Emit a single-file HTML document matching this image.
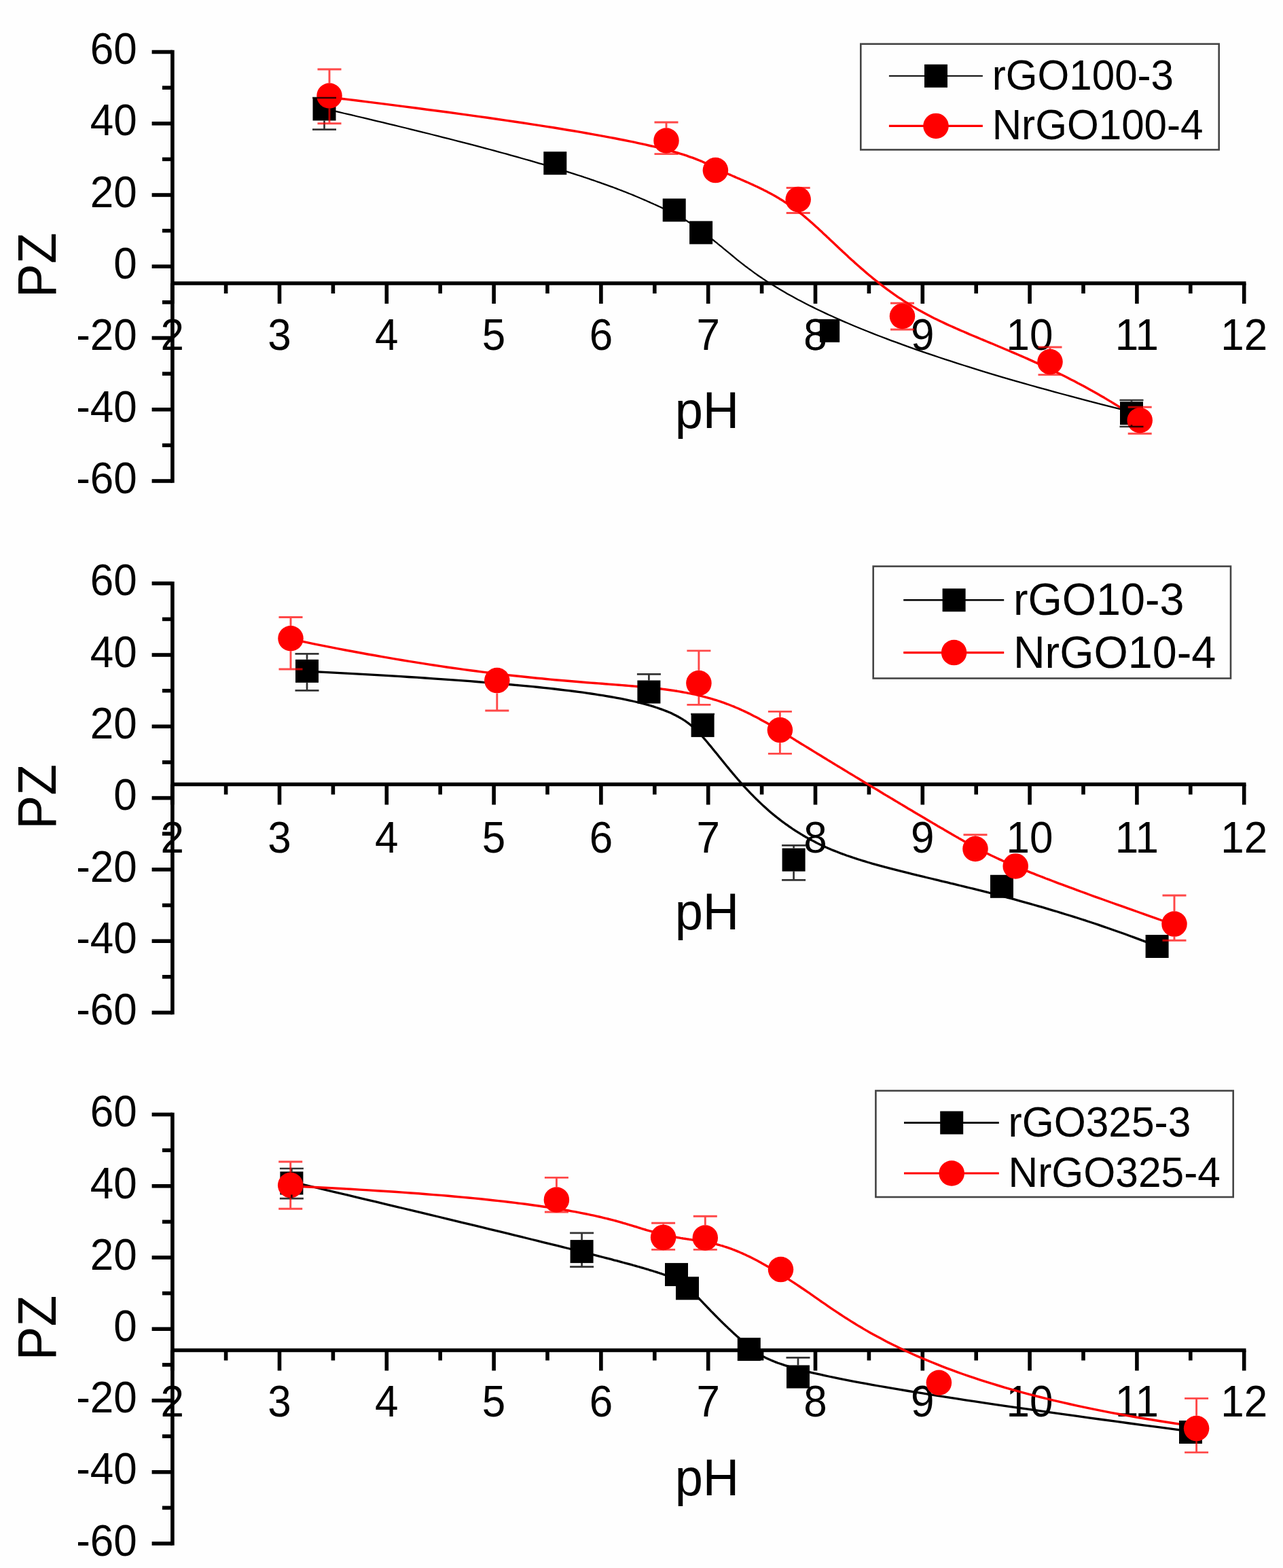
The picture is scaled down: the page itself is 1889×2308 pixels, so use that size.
<!DOCTYPE html>
<html><head><meta charset="utf-8"><title>PZ vs pH</title>
<style>html,body{margin:0;padding:0;background:#fefefe;}svg{display:block;}</style>
</head><body>
<svg width="1889" height="2308" viewBox="0 0 1889 2308"><rect x="0" y="0" width="1889" height="2308" fill="#fefefe"/><g><g><line x1="253.9" y1="73.7" x2="253.9" y2="710.8" stroke="#000" stroke-width="5.6"/><line x1="223.6" y1="708.0" x2="253.9" y2="708.0" stroke="#000" stroke-width="5.6"/><line x1="238.9" y1="655.4" x2="253.9" y2="655.4" stroke="#000" stroke-width="5.6"/><line x1="223.6" y1="602.8" x2="253.9" y2="602.8" stroke="#000" stroke-width="5.6"/><line x1="238.9" y1="550.1" x2="253.9" y2="550.1" stroke="#000" stroke-width="5.6"/><line x1="223.6" y1="497.5" x2="253.9" y2="497.5" stroke="#000" stroke-width="5.6"/><line x1="238.9" y1="444.9" x2="253.9" y2="444.9" stroke="#000" stroke-width="5.6"/><line x1="223.6" y1="392.2" x2="253.9" y2="392.2" stroke="#000" stroke-width="5.6"/><line x1="238.9" y1="339.6" x2="253.9" y2="339.6" stroke="#000" stroke-width="5.6"/><line x1="223.6" y1="287.0" x2="253.9" y2="287.0" stroke="#000" stroke-width="5.6"/><line x1="238.9" y1="234.4" x2="253.9" y2="234.4" stroke="#000" stroke-width="5.6"/><line x1="223.6" y1="181.8" x2="253.9" y2="181.8" stroke="#000" stroke-width="5.6"/><line x1="238.9" y1="129.1" x2="253.9" y2="129.1" stroke="#000" stroke-width="5.6"/><line x1="223.6" y1="76.5" x2="253.9" y2="76.5" stroke="#000" stroke-width="5.6"/><line x1="253.9" y1="417.0" x2="1834.5" y2="417.0" stroke="#000" stroke-width="5.6"/><line x1="253.7" y1="417.0" x2="253.7" y2="447.0" stroke="#000" stroke-width="5.6"/><line x1="332.6" y1="417.0" x2="332.6" y2="432.0" stroke="#000" stroke-width="5.6"/><line x1="411.5" y1="417.0" x2="411.5" y2="447.0" stroke="#000" stroke-width="5.6"/><line x1="490.4" y1="417.0" x2="490.4" y2="432.0" stroke="#000" stroke-width="5.6"/><line x1="569.3" y1="417.0" x2="569.3" y2="447.0" stroke="#000" stroke-width="5.6"/><line x1="648.2" y1="417.0" x2="648.2" y2="432.0" stroke="#000" stroke-width="5.6"/><line x1="727.1" y1="417.0" x2="727.1" y2="447.0" stroke="#000" stroke-width="5.6"/><line x1="806.0" y1="417.0" x2="806.0" y2="432.0" stroke="#000" stroke-width="5.6"/><line x1="884.9" y1="417.0" x2="884.9" y2="447.0" stroke="#000" stroke-width="5.6"/><line x1="963.8" y1="417.0" x2="963.8" y2="432.0" stroke="#000" stroke-width="5.6"/><line x1="1042.7" y1="417.0" x2="1042.7" y2="447.0" stroke="#000" stroke-width="5.6"/><line x1="1121.6" y1="417.0" x2="1121.6" y2="432.0" stroke="#000" stroke-width="5.6"/><line x1="1200.5" y1="417.0" x2="1200.5" y2="447.0" stroke="#000" stroke-width="5.6"/><line x1="1279.4" y1="417.0" x2="1279.4" y2="432.0" stroke="#000" stroke-width="5.6"/><line x1="1358.3" y1="417.0" x2="1358.3" y2="447.0" stroke="#000" stroke-width="5.6"/><line x1="1437.2" y1="417.0" x2="1437.2" y2="432.0" stroke="#000" stroke-width="5.6"/><line x1="1516.1" y1="417.0" x2="1516.1" y2="447.0" stroke="#000" stroke-width="5.6"/><line x1="1595.0" y1="417.0" x2="1595.0" y2="432.0" stroke="#000" stroke-width="5.6"/><line x1="1673.9" y1="417.0" x2="1673.9" y2="447.0" stroke="#000" stroke-width="5.6"/><line x1="1752.8" y1="417.0" x2="1752.8" y2="432.0" stroke="#000" stroke-width="5.6"/><line x1="1831.7" y1="417.0" x2="1831.7" y2="447.0" stroke="#000" stroke-width="5.6"/><text transform="translate(201.8,725.7) scale(1.0,1.055)" font-family="Liberation Sans, sans-serif" font-size="62" text-anchor="end">-60</text><text transform="translate(201.8,620.5) scale(1.0,1.055)" font-family="Liberation Sans, sans-serif" font-size="62" text-anchor="end">-40</text><text transform="translate(201.8,515.2) scale(1.0,1.055)" font-family="Liberation Sans, sans-serif" font-size="62" text-anchor="end">-20</text><text transform="translate(201.8,409.9) scale(1.0,1.055)" font-family="Liberation Sans, sans-serif" font-size="62" text-anchor="end">0</text><text transform="translate(201.8,304.7) scale(1.0,1.055)" font-family="Liberation Sans, sans-serif" font-size="62" text-anchor="end">20</text><text transform="translate(201.8,199.4) scale(1.0,1.055)" font-family="Liberation Sans, sans-serif" font-size="62" text-anchor="end">40</text><text transform="translate(201.8,94.2) scale(1.0,1.055)" font-family="Liberation Sans, sans-serif" font-size="62" text-anchor="end">60</text><text transform="translate(253.7,514.5) scale(1.0,1.055)" font-family="Liberation Sans, sans-serif" font-size="62" text-anchor="middle">2</text><text transform="translate(411.5,514.5) scale(1.0,1.055)" font-family="Liberation Sans, sans-serif" font-size="62" text-anchor="middle">3</text><text transform="translate(569.3,514.5) scale(1.0,1.055)" font-family="Liberation Sans, sans-serif" font-size="62" text-anchor="middle">4</text><text transform="translate(727.1,514.5) scale(1.0,1.055)" font-family="Liberation Sans, sans-serif" font-size="62" text-anchor="middle">5</text><text transform="translate(884.9,514.5) scale(1.0,1.055)" font-family="Liberation Sans, sans-serif" font-size="62" text-anchor="middle">6</text><text transform="translate(1042.7,514.5) scale(1.0,1.055)" font-family="Liberation Sans, sans-serif" font-size="62" text-anchor="middle">7</text><text transform="translate(1200.5,514.5) scale(1.0,1.055)" font-family="Liberation Sans, sans-serif" font-size="62" text-anchor="middle">8</text><text transform="translate(1358.3,514.5) scale(1.0,1.055)" font-family="Liberation Sans, sans-serif" font-size="62" text-anchor="middle">9</text><text transform="translate(1516.1,514.5) scale(1.0,1.055)" font-family="Liberation Sans, sans-serif" font-size="62" text-anchor="middle">10</text><text transform="translate(1673.9,514.5) scale(1.0,1.055)" font-family="Liberation Sans, sans-serif" font-size="62" text-anchor="middle">11</text><text transform="translate(1831.7,514.5) scale(1.0,1.055)" font-family="Liberation Sans, sans-serif" font-size="62" text-anchor="middle">12</text><text transform="translate(82.4,390.3) rotate(-90) scale(1.0,1.05)" font-family="Liberation Sans, sans-serif" font-size="75" text-anchor="middle">PZ</text><text transform="translate(1041.0,630.3) scale(1.0,1.03)" font-family="Liberation Sans, sans-serif" font-size="74" text-anchor="middle">pH</text><path d="M477.5,160.0 L487.6,162.4 L497.6,164.7 L507.4,167.0 L517.1,169.2 L526.6,171.5 L536.0,173.7 L545.2,175.9 L554.3,178.1 L563.3,180.2 L572.1,182.3 L580.8,184.4 L589.3,186.5 L597.7,188.5 L606.0,190.6 L614.2,192.6 L622.2,194.6 L630.0,196.5 L637.8,198.5 L645.4,200.4 L652.9,202.3 L660.3,204.1 L667.5,206.0 L674.6,207.8 L681.6,209.6 L688.5,211.4 L695.3,213.2 L701.9,214.9 L708.4,216.7 L714.8,218.4 L721.1,220.0 L727.3,221.7 L733.4,223.4 L739.3,225.0 L745.8,226.7 L751.5,228.3 L757.1,229.9 L762.6,231.4 L768.1,233.0 L773.4,234.5 L778.6,235.9 L783.7,237.4 L788.7,238.9 L793.6,240.3 L798.5,241.7 L803.2,243.1 L807.8,244.5 L812.4,245.8 L816.8,247.2 L821.2,248.5 L825.5,249.8 L829.7,251.1 L833.8,252.4 L837.8,253.7 L841.7,254.9 L845.6,256.1 L849.4,257.3 L853.1,258.5 L856.7,259.7 L860.2,260.9 L863.7,262.0 L867.1,263.2 L870.4,264.3 L873.7,265.4 L876.8,266.5 L879.9,267.6 L883.0,268.6 L886.3,269.8 L889.2,270.8 L892.0,271.8 L894.8,272.8 L897.5,273.8 L900.2,274.8 L902.8,275.7 L905.3,276.7 L907.8,277.6 L910.2,278.6 L912.6,279.5 L915.0,280.4 L917.2,281.3 L919.5,282.1 L921.7,283.0 L923.8,283.9 L925.9,284.7 L927.9,285.5 L929.9,286.3 L931.9,287.1 L933.8,287.9 L935.7,288.7 L937.6,289.5 L939.4,290.3 L941.1,291.0 L942.9,291.8 L944.6,292.5 L946.3,293.2 L947.9,293.9 L949.5,294.6 L951.1,295.3 L952.7,296.0 L954.3,296.7 L955.9,297.4 L957.4,298.1 L958.9,298.8 L960.3,299.4 L961.8,300.0 L963.2,300.7 L964.6,301.3 L965.9,301.9 L967.3,302.5 L968.6,303.1 L969.9,303.7 L971.2,304.3 L972.5,304.9 L973.8,305.5 L975.0,306.1 L976.3,306.6 L977.5,307.2 L978.7,307.8 L979.9,308.3 L981.0,308.9 L982.2,309.5 L983.4,310.0 L984.5,310.6 L985.6,311.1 L986.7,311.7 L987.8,312.2 L988.9,312.8 L990.0,313.3 L991.1,313.8 L992.1,314.4 L993.2,314.9 L994.2,315.5 L995.3,316.0 L996.4,316.6 L997.4,317.2 L998.4,317.7 L999.4,318.3 L1000.4,318.9 L1001.4,319.4 L1002.4,320.0 L1003.4,320.5 L1004.4,321.1 L1005.4,321.7 L1006.4,322.3 L1007.4,322.8 L1008.3,323.4 L1009.3,324.0 L1010.3,324.6 L1011.3,325.2 L1012.2,325.8 L1013.2,326.5 L1014.2,327.1 L1015.2,327.7 L1016.1,328.3 L1017.1,329.0 L1018.1,329.6 L1019.1,330.3 L1020.1,331.0 L1021.1,331.7 L1022.1,332.3 L1023.1,333.0 L1024.1,333.7 L1025.1,334.5 L1026.2,335.2 L1027.2,335.9 L1028.2,336.7 L1029.3,337.4 L1030.4,338.3 L1031.5,339.1 L1032.6,339.9 L1033.7,340.7 L1034.8,341.5 L1035.9,342.3 L1037.0,343.2 L1038.1,344.0 L1039.3,344.9 L1040.4,345.8 L1041.6,346.7 L1042.8,347.6 L1044.0,348.6 L1045.2,349.5 L1046.4,350.5 L1047.7,351.5 L1048.9,352.5 L1050.2,353.5 L1051.5,354.5 L1052.8,355.6 L1054.1,356.6 L1055.5,357.7 L1056.8,358.8 L1058.2,359.9 L1059.6,361.1 L1061.0,362.2 L1062.5,363.4 L1064.0,364.6 L1065.4,365.8 L1067.0,367.1 L1068.5,368.3 L1070.0,369.6 L1071.6,370.9 L1073.4,372.4 L1075.0,373.7 L1076.7,375.1 L1078.4,376.5 L1080.1,377.9 L1081.8,379.3 L1083.6,380.8 L1085.4,382.3 L1087.3,383.8 L1089.2,385.3 L1091.1,386.8 L1093.1,388.4 L1095.2,390.0 L1097.2,391.6 L1099.4,393.2 L1101.6,394.9 L1103.8,396.5 L1106.1,398.2 L1108.4,399.9 L1110.8,401.7 L1113.3,403.4 L1115.8,405.2 L1118.4,407.0 L1121.1,408.8 L1123.8,410.6 L1126.6,412.5 L1129.5,414.4 L1132.5,416.3 L1135.5,418.2 L1138.6,420.1 L1141.8,422.1 L1145.1,424.1 L1148.4,426.1 L1152.2,428.3 L1155.7,430.3 L1159.3,432.4 L1163.1,434.5 L1166.9,436.6 L1170.8,438.7 L1174.8,440.9 L1178.9,443.0 L1183.1,445.2 L1187.4,447.4 L1191.8,449.7 L1196.3,451.9 L1200.9,454.2 L1205.6,456.5 L1210.5,458.8 L1215.4,461.1 L1220.5,463.5 L1225.7,465.8 L1231.0,468.2 L1236.4,470.6 L1242.0,473.1 L1247.7,475.5 L1253.5,478.0 L1259.4,480.5 L1265.5,483.0 L1271.7,485.5 L1278.0,488.0 L1284.5,490.6 L1291.1,493.2 L1297.8,495.8 L1304.7,498.4 L1311.7,501.1 L1318.9,503.7 L1327.0,506.7 L1334.5,509.4 L1342.1,512.1 L1349.9,514.9 L1357.9,517.6 L1366.0,520.4 L1374.3,523.2 L1382.7,526.0 L1391.3,528.9 L1400.1,531.7 L1409.0,534.6 L1418.1,537.5 L1427.4,540.4 L1436.8,543.4 L1446.4,546.3 L1456.2,549.3 L1466.2,552.3 L1476.3,555.3 L1486.6,558.3 L1497.1,561.4 L1507.8,564.4 L1518.7,567.5 L1529.8,570.6 L1541.1,573.7 L1552.5,576.9 L1564.2,580.0 L1576.0,583.2 L1588.1,586.4 L1600.3,589.6 L1612.8,592.9 L1625.4,596.1 L1638.3,599.4 L1651.4,602.7 L1666.0,606.3" fill="none" stroke="#000" stroke-width="2.3" stroke-linejoin="round"/><path d="M485.0,143.1 L504.6,145.5 L523.7,147.8 L542.4,150.1 L560.5,152.4 L578.2,154.6 L595.5,156.9 L612.3,159.0 L628.6,161.2 L644.5,163.3 L660.0,165.3 L675.1,167.4 L689.7,169.4 L703.9,171.4 L717.8,173.3 L731.2,175.2 L744.2,177.1 L756.9,179.0 L769.1,180.8 L781.0,182.6 L792.5,184.4 L803.7,186.1 L814.5,187.8 L825.0,189.5 L835.1,191.2 L844.9,192.8 L854.4,194.4 L863.5,196.0 L872.4,197.6 L880.9,199.1 L889.1,200.6 L897.1,202.1 L904.7,203.5 L912.1,205.0 L919.9,206.5 L926.7,207.9 L933.2,209.2 L939.5,210.6 L945.6,211.9 L951.4,213.2 L956.9,214.5 L962.3,215.7 L967.4,216.9 L972.3,218.2 L977.0,219.4 L981.5,220.5 L985.8,221.7 L989.9,222.8 L993.9,223.9 L997.6,225.0 L1001.2,226.1 L1004.7,227.2 L1007.9,228.2 L1011.1,229.2 L1014.1,230.3 L1016.9,231.3 L1019.6,232.2 L1022.2,233.2 L1024.7,234.2 L1027.1,235.1 L1029.4,236.0 L1031.6,236.9 L1033.7,237.8 L1035.7,238.7 L1037.6,239.6 L1039.5,240.5 L1041.3,241.3 L1043.2,242.2 L1044.9,243.0 L1046.6,243.9 L1048.2,244.7 L1049.8,245.5 L1051.3,246.2 L1052.9,247.0 L1054.4,247.8 L1055.9,248.5 L1057.5,249.3 L1059.0,250.0 L1060.6,250.8 L1062.1,251.5 L1063.7,252.2 L1065.2,252.9 L1066.8,253.6 L1068.3,254.4 L1069.9,255.1 L1071.4,255.8 L1073.0,256.5 L1074.6,257.1 L1076.1,257.8 L1077.7,258.5 L1079.3,259.2 L1080.9,259.9 L1082.5,260.6 L1084.0,261.3 L1085.6,262.0 L1087.2,262.6 L1088.8,263.3 L1090.4,264.0 L1092.0,264.7 L1093.6,265.4 L1095.4,266.2 L1097.0,266.9 L1098.6,267.6 L1100.2,268.3 L1101.9,269.0 L1103.5,269.7 L1105.1,270.5 L1106.7,271.2 L1108.4,271.9 L1110.0,272.7 L1111.7,273.5 L1113.3,274.2 L1115.0,275.0 L1116.6,275.8 L1118.3,276.6 L1119.9,277.4 L1121.6,278.2 L1123.3,279.0 L1125.0,279.9 L1126.6,280.7 L1128.3,281.6 L1130.0,282.5 L1131.7,283.4 L1133.4,284.3 L1135.1,285.2 L1136.8,286.1 L1138.5,287.1 L1140.2,288.0 L1142.0,289.0 L1143.7,290.0 L1145.4,291.1 L1147.2,292.1 L1148.9,293.2 L1150.8,294.3 L1152.6,295.4 L1154.3,296.6 L1156.1,297.7 L1157.9,298.8 L1159.6,300.0 L1161.4,301.2 L1163.2,302.5 L1165.0,303.7 L1166.8,305.0 L1168.6,306.3 L1170.4,307.6 L1172.2,308.9 L1174.0,310.3 L1175.8,311.7 L1177.6,313.1 L1179.4,314.6 L1181.3,316.0 L1183.1,317.5 L1185.0,319.1 L1186.8,320.6 L1188.7,322.2 L1190.5,323.8 L1192.4,325.4 L1194.3,327.1 L1196.2,328.7 L1198.1,330.4 L1200.0,332.2 L1201.9,333.9 L1203.8,335.6 L1205.8,337.4 L1207.7,339.2 L1209.7,341.0 L1211.6,342.9 L1213.8,344.9 L1215.8,346.8 L1217.8,348.7 L1219.8,350.5 L1221.8,352.5 L1223.9,354.4 L1225.9,356.3 L1228.0,358.3 L1230.1,360.2 L1232.2,362.2 L1234.3,364.2 L1236.4,366.2 L1238.6,368.2 L1240.7,370.2 L1242.9,372.2 L1245.1,374.3 L1247.3,376.3 L1249.5,378.4 L1251.7,380.4 L1254.0,382.5 L1256.3,384.5 L1258.5,386.6 L1260.9,388.7 L1263.2,390.7 L1265.5,392.8 L1267.9,394.9 L1270.3,396.9 L1272.7,399.0 L1275.1,401.1 L1277.6,403.2 L1280.0,405.2 L1282.5,407.3 L1285.0,409.4 L1287.8,411.6 L1290.4,413.7 L1293.0,415.7 L1295.6,417.8 L1298.2,419.8 L1300.9,421.9 L1303.5,423.9 L1306.2,425.9 L1309.0,427.9 L1311.7,429.9 L1314.5,431.9 L1317.3,433.9 L1320.1,435.8 L1323.0,437.8 L1325.9,439.7 L1328.8,441.7 L1331.7,443.6 L1334.7,445.5 L1337.7,447.4 L1340.7,449.2 L1343.8,451.1 L1346.9,452.9 L1350.0,454.8 L1353.1,456.6 L1356.3,458.3 L1359.5,460.1 L1362.7,461.8 L1366.0,463.6 L1369.3,465.3 L1372.6,467.0 L1376.0,468.7 L1379.4,470.3 L1382.8,472.0 L1386.6,473.8 L1390.0,475.4 L1393.6,477.1 L1397.1,478.7 L1400.7,480.3 L1404.3,481.9 L1407.9,483.5 L1411.6,485.1 L1415.2,486.7 L1419.0,488.3 L1422.7,489.9 L1426.5,491.6 L1430.3,493.2 L1434.1,494.8 L1438.0,496.4 L1441.9,498.0 L1445.8,499.7 L1449.8,501.3 L1453.7,503.0 L1457.7,504.6 L1461.8,506.3 L1465.8,508.0 L1469.9,509.7 L1474.1,511.5 L1478.2,513.2 L1482.4,515.0 L1486.6,516.8 L1490.8,518.6 L1495.1,520.4 L1499.4,522.2 L1503.7,524.1 L1508.1,526.0 L1512.4,527.9 L1517.3,530.1 L1521.7,532.1 L1526.2,534.1 L1530.7,536.2 L1535.2,538.2 L1539.7,540.4 L1544.3,542.5 L1548.9,544.7 L1553.5,546.9 L1558.2,549.2 L1562.8,551.5 L1567.5,553.8 L1572.3,556.2 L1577.0,558.7 L1581.8,561.1 L1586.6,563.7 L1591.5,566.2 L1596.3,568.8 L1601.2,571.5 L1606.1,574.2 L1611.1,577.0 L1616.0,579.8 L1621.0,582.7 L1626.1,585.6 L1631.1,588.6 L1636.2,591.6 L1641.3,594.7 L1646.4,597.9 L1651.5,601.1 L1656.7,604.4 L1661.9,607.8 L1667.1,611.2 L1672.4,614.6 L1678.2,618.5" fill="none" stroke="#f00" stroke-width="3.4" stroke-linejoin="round"/><rect x="460.5" y="143.5" width="34.0" height="34.0" fill="#000"/><rect x="800.3" y="223.2" width="34.0" height="34.0" fill="#000"/><rect x="975.7" y="292.3" width="34.0" height="34.0" fill="#000"/><rect x="1015.1" y="325.4" width="34.0" height="34.0" fill="#000"/><rect x="1202.2" y="469.8" width="34.0" height="34.0" fill="#000"/><rect x="1649.0" y="591.3" width="34.0" height="34.0" fill="#000"/><circle cx="485.0" cy="141.0" r="18.75" fill="#f00"/><circle cx="981.0" cy="207.0" r="18.75" fill="#f00"/><circle cx="1053.4" cy="250.6" r="18.75" fill="#f00"/><circle cx="1175.2" cy="293.6" r="18.75" fill="#f00"/><circle cx="1328.5" cy="465.4" r="18.75" fill="#f00"/><circle cx="1546.0" cy="532.6" r="18.75" fill="#f00"/><circle cx="1678.2" cy="618.7" r="18.75" fill="#f00"/><path d="M460.0,144.0 h35.0 M477.5,177.5 V190.7 M460.0,190.7 h35.0" stroke="#000" stroke-opacity="0.8" stroke-width="2.7" fill="none"/><path d="M1666.0,591.3 V589.0 M1648.5,589.0 h35.0 M1666.0,625.3 V628.0 M1648.5,628.0 h35.0" stroke="#000" stroke-opacity="0.8" stroke-width="2.7" fill="none"/><path d="M485.0,122.2 V102.0 M467.5,102.0 h35.0 M485.0,159.8 V181.7 M467.5,181.7 h35.0" stroke="#f00" stroke-opacity="0.72" stroke-width="2.9" fill="none"/><path d="M981.0,188.2 V180.0 M963.5,180.0 h35.0 M981.0,225.8 V226.6 M963.5,226.6 h35.0" stroke="#f00" stroke-opacity="0.72" stroke-width="2.9" fill="none"/><path d="M1157.7,276.5 h35.0 M1175.2,312.4 V313.5 M1157.7,313.5 h35.0" stroke="#f00" stroke-opacity="0.72" stroke-width="2.9" fill="none"/><path d="M1328.5,446.6 V446.3 M1311.0,446.3 h35.0 M1328.5,484.1 V485.0 M1311.0,485.0 h35.0" stroke="#f00" stroke-opacity="0.72" stroke-width="2.9" fill="none"/><path d="M1546.0,513.9 V511.0 M1528.5,511.0 h35.0 M1546.0,551.4 V551.6 M1528.5,551.6 h35.0" stroke="#f00" stroke-opacity="0.72" stroke-width="2.9" fill="none"/><path d="M1678.2,600.0 V599.3 M1660.7,599.3 h35.0 M1678.2,637.5 V638.2 M1660.7,638.2 h35.0" stroke="#f00" stroke-opacity="0.72" stroke-width="2.9" fill="none"/><rect x="1189" y="473" width="18" height="40" fill="#fefefe"/><text transform="translate(1200.5,514.5) scale(1.0,1.055)" font-family="Liberation Sans, sans-serif" font-size="62" text-anchor="middle">8</text><rect x="1267.3" y="64.7" width="527.4" height="155.7" fill="none" stroke="#444" stroke-width="2.6"/><line x1="1308.9" y1="111.8" x2="1446.9" y2="111.8" stroke="#000" stroke-width="2.0"/><rect x="1361.0" y="94.8" width="34.0" height="34.0" fill="#000"/><line x1="1308.9" y1="185.4" x2="1446.9" y2="185.4" stroke="#f00" stroke-width="3.2"/><circle cx="1378" cy="185.4" r="18.75" fill="#f00"/><text transform="translate(1460.7,131.7) scale(0.97,1.03)" font-family="Liberation Sans, sans-serif" font-size="62">rGO100-3</text><text transform="translate(1460.7,204.6) scale(0.97,1.03)" font-family="Liberation Sans, sans-serif" font-size="62">NrGO100-4</text></g><g><line x1="253.9" y1="855.9" x2="253.9" y2="1493.3" stroke="#000" stroke-width="5.6"/><line x1="223.6" y1="1490.5" x2="253.9" y2="1490.5" stroke="#000" stroke-width="5.6"/><line x1="238.9" y1="1437.8" x2="253.9" y2="1437.8" stroke="#000" stroke-width="5.6"/><line x1="223.6" y1="1385.2" x2="253.9" y2="1385.2" stroke="#000" stroke-width="5.6"/><line x1="238.9" y1="1332.5" x2="253.9" y2="1332.5" stroke="#000" stroke-width="5.6"/><line x1="223.6" y1="1279.9" x2="253.9" y2="1279.9" stroke="#000" stroke-width="5.6"/><line x1="238.9" y1="1227.2" x2="253.9" y2="1227.2" stroke="#000" stroke-width="5.6"/><line x1="223.6" y1="1174.6" x2="253.9" y2="1174.6" stroke="#000" stroke-width="5.6"/><line x1="238.9" y1="1122.0" x2="253.9" y2="1122.0" stroke="#000" stroke-width="5.6"/><line x1="223.6" y1="1069.3" x2="253.9" y2="1069.3" stroke="#000" stroke-width="5.6"/><line x1="238.9" y1="1016.7" x2="253.9" y2="1016.7" stroke="#000" stroke-width="5.6"/><line x1="223.6" y1="964.0" x2="253.9" y2="964.0" stroke="#000" stroke-width="5.6"/><line x1="238.9" y1="911.4" x2="253.9" y2="911.4" stroke="#000" stroke-width="5.6"/><line x1="223.6" y1="858.7" x2="253.9" y2="858.7" stroke="#000" stroke-width="5.6"/><line x1="253.9" y1="1154.5" x2="1834.5" y2="1154.5" stroke="#000" stroke-width="5.6"/><line x1="253.7" y1="1154.5" x2="253.7" y2="1184.5" stroke="#000" stroke-width="5.6"/><line x1="332.6" y1="1154.5" x2="332.6" y2="1169.5" stroke="#000" stroke-width="5.6"/><line x1="411.5" y1="1154.5" x2="411.5" y2="1184.5" stroke="#000" stroke-width="5.6"/><line x1="490.4" y1="1154.5" x2="490.4" y2="1169.5" stroke="#000" stroke-width="5.6"/><line x1="569.3" y1="1154.5" x2="569.3" y2="1184.5" stroke="#000" stroke-width="5.6"/><line x1="648.2" y1="1154.5" x2="648.2" y2="1169.5" stroke="#000" stroke-width="5.6"/><line x1="727.1" y1="1154.5" x2="727.1" y2="1184.5" stroke="#000" stroke-width="5.6"/><line x1="806.0" y1="1154.5" x2="806.0" y2="1169.5" stroke="#000" stroke-width="5.6"/><line x1="884.9" y1="1154.5" x2="884.9" y2="1184.5" stroke="#000" stroke-width="5.6"/><line x1="963.8" y1="1154.5" x2="963.8" y2="1169.5" stroke="#000" stroke-width="5.6"/><line x1="1042.7" y1="1154.5" x2="1042.7" y2="1184.5" stroke="#000" stroke-width="5.6"/><line x1="1121.6" y1="1154.5" x2="1121.6" y2="1169.5" stroke="#000" stroke-width="5.6"/><line x1="1200.5" y1="1154.5" x2="1200.5" y2="1184.5" stroke="#000" stroke-width="5.6"/><line x1="1279.4" y1="1154.5" x2="1279.4" y2="1169.5" stroke="#000" stroke-width="5.6"/><line x1="1358.3" y1="1154.5" x2="1358.3" y2="1184.5" stroke="#000" stroke-width="5.6"/><line x1="1437.2" y1="1154.5" x2="1437.2" y2="1169.5" stroke="#000" stroke-width="5.6"/><line x1="1516.1" y1="1154.5" x2="1516.1" y2="1184.5" stroke="#000" stroke-width="5.6"/><line x1="1595.0" y1="1154.5" x2="1595.0" y2="1169.5" stroke="#000" stroke-width="5.6"/><line x1="1673.9" y1="1154.5" x2="1673.9" y2="1184.5" stroke="#000" stroke-width="5.6"/><line x1="1752.8" y1="1154.5" x2="1752.8" y2="1169.5" stroke="#000" stroke-width="5.6"/><line x1="1831.7" y1="1154.5" x2="1831.7" y2="1184.5" stroke="#000" stroke-width="5.6"/><text transform="translate(201.8,1508.2) scale(1.0,1.055)" font-family="Liberation Sans, sans-serif" font-size="62" text-anchor="end">-60</text><text transform="translate(201.8,1402.9) scale(1.0,1.055)" font-family="Liberation Sans, sans-serif" font-size="62" text-anchor="end">-40</text><text transform="translate(201.8,1297.6) scale(1.0,1.055)" font-family="Liberation Sans, sans-serif" font-size="62" text-anchor="end">-20</text><text transform="translate(201.8,1192.3) scale(1.0,1.055)" font-family="Liberation Sans, sans-serif" font-size="62" text-anchor="end">0</text><text transform="translate(201.8,1087.0) scale(1.0,1.055)" font-family="Liberation Sans, sans-serif" font-size="62" text-anchor="end">20</text><text transform="translate(201.8,981.7) scale(1.0,1.055)" font-family="Liberation Sans, sans-serif" font-size="62" text-anchor="end">40</text><text transform="translate(201.8,876.4) scale(1.0,1.055)" font-family="Liberation Sans, sans-serif" font-size="62" text-anchor="end">60</text><text transform="translate(253.7,1254.5) scale(1.0,1.055)" font-family="Liberation Sans, sans-serif" font-size="62" text-anchor="middle">2</text><text transform="translate(411.5,1254.5) scale(1.0,1.055)" font-family="Liberation Sans, sans-serif" font-size="62" text-anchor="middle">3</text><text transform="translate(569.3,1254.5) scale(1.0,1.055)" font-family="Liberation Sans, sans-serif" font-size="62" text-anchor="middle">4</text><text transform="translate(727.1,1254.5) scale(1.0,1.055)" font-family="Liberation Sans, sans-serif" font-size="62" text-anchor="middle">5</text><text transform="translate(884.9,1254.5) scale(1.0,1.055)" font-family="Liberation Sans, sans-serif" font-size="62" text-anchor="middle">6</text><text transform="translate(1042.7,1254.5) scale(1.0,1.055)" font-family="Liberation Sans, sans-serif" font-size="62" text-anchor="middle">7</text><text transform="translate(1200.5,1254.5) scale(1.0,1.055)" font-family="Liberation Sans, sans-serif" font-size="62" text-anchor="middle">8</text><text transform="translate(1358.3,1254.5) scale(1.0,1.055)" font-family="Liberation Sans, sans-serif" font-size="62" text-anchor="middle">9</text><text transform="translate(1516.1,1254.5) scale(1.0,1.055)" font-family="Liberation Sans, sans-serif" font-size="62" text-anchor="middle">10</text><text transform="translate(1673.9,1254.5) scale(1.0,1.055)" font-family="Liberation Sans, sans-serif" font-size="62" text-anchor="middle">11</text><text transform="translate(1831.7,1254.5) scale(1.0,1.055)" font-family="Liberation Sans, sans-serif" font-size="62" text-anchor="middle">12</text><text transform="translate(82.4,1172.9) rotate(-90) scale(1.0,1.05)" font-family="Liberation Sans, sans-serif" font-size="75" text-anchor="middle">PZ</text><text transform="translate(1041.0,1367.8) scale(1.0,1.03)" font-family="Liberation Sans, sans-serif" font-size="74" text-anchor="middle">pH</text><path d="M452.0,988.1 L467.0,988.8 L481.7,989.6 L496.1,990.3 L510.2,991.1 L524.1,991.9 L537.7,992.6 L551.1,993.4 L564.2,994.2 L577.0,994.9 L589.6,995.7 L602.0,996.5 L614.0,997.2 L625.9,998.0 L637.5,998.8 L648.9,999.6 L660.0,1000.3 L670.9,1001.1 L681.5,1001.9 L692.0,1002.7 L702.2,1003.5 L712.2,1004.3 L721.9,1005.1 L731.5,1005.8 L740.8,1006.7 L749.9,1007.5 L758.9,1008.3 L767.6,1009.1 L776.1,1009.9 L784.4,1010.7 L792.5,1011.5 L800.4,1012.4 L808.1,1013.2 L815.7,1014.0 L823.8,1015.0 L830.9,1015.8 L837.9,1016.6 L844.7,1017.5 L851.3,1018.4 L857.7,1019.2 L864.0,1020.1 L870.1,1021.0 L876.1,1021.9 L881.8,1022.8 L887.5,1023.7 L892.9,1024.6 L898.3,1025.5 L903.4,1026.4 L908.5,1027.3 L913.3,1028.2 L918.1,1029.2 L922.7,1030.1 L927.2,1031.1 L931.5,1032.0 L935.7,1033.0 L939.8,1033.9 L943.7,1034.9 L947.6,1035.9 L951.3,1036.9 L954.9,1037.9 L958.4,1038.9 L961.7,1039.9 L965.0,1041.0 L968.2,1042.0 L971.2,1043.1 L974.2,1044.1 L977.1,1045.2 L980.1,1046.4 L982.8,1047.4 L985.4,1048.5 L987.9,1049.6 L990.3,1050.8 L992.6,1051.9 L994.9,1053.0 L997.1,1054.2 L999.2,1055.3 L1001.2,1056.5 L1003.2,1057.6 L1005.2,1058.8 L1007.0,1060.0 L1008.8,1061.2 L1010.6,1062.5 L1012.3,1063.7 L1013.9,1064.9 L1015.6,1066.2 L1017.1,1067.4 L1018.7,1068.7 L1020.1,1070.0 L1021.6,1071.3 L1023.0,1072.6 L1024.4,1073.9 L1025.8,1075.3 L1027.1,1076.6 L1028.5,1078.0 L1029.8,1079.4 L1031.1,1080.8 L1032.4,1082.2 L1033.6,1083.6 L1034.9,1085.0 L1036.2,1086.5 L1037.6,1088.1 L1038.8,1089.5 L1040.1,1091.0 L1041.4,1092.5 L1042.6,1094.0 L1043.9,1095.6 L1045.2,1097.1 L1046.5,1098.6 L1047.8,1100.2 L1049.0,1101.8 L1050.3,1103.4 L1051.6,1105.0 L1052.9,1106.6 L1054.3,1108.2 L1055.6,1109.8 L1056.9,1111.4 L1058.2,1113.1 L1059.5,1114.7 L1060.9,1116.4 L1062.2,1118.0 L1063.6,1119.7 L1065.0,1121.4 L1066.3,1123.1 L1067.7,1124.8 L1069.1,1126.5 L1070.5,1128.2 L1071.9,1129.9 L1073.3,1131.6 L1074.7,1133.4 L1076.2,1135.1 L1077.6,1136.8 L1079.1,1138.6 L1080.6,1140.3 L1082.2,1142.2 L1083.7,1144.0 L1085.2,1145.7 L1086.7,1147.5 L1088.2,1149.2 L1089.8,1151.0 L1091.4,1152.8 L1092.9,1154.5 L1094.5,1156.3 L1096.1,1158.1 L1097.7,1159.8 L1099.4,1161.6 L1101.0,1163.3 L1102.7,1165.1 L1104.3,1166.9 L1106.0,1168.6 L1107.8,1170.4 L1109.5,1172.2 L1111.2,1173.9 L1113.0,1175.7 L1114.8,1177.4 L1116.6,1179.2 L1118.4,1180.9 L1120.2,1182.6 L1122.1,1184.4 L1123.9,1186.1 L1125.8,1187.8 L1127.8,1189.6 L1129.7,1191.3 L1131.6,1193.0 L1133.6,1194.7 L1135.6,1196.4 L1137.6,1198.1 L1139.7,1199.8 L1141.9,1201.6 L1144.0,1203.3 L1146.1,1204.9 L1148.3,1206.6 L1150.4,1208.2 L1152.6,1209.9 L1154.8,1211.5 L1157.0,1213.1 L1159.3,1214.7 L1161.6,1216.3 L1163.9,1217.9 L1166.2,1219.5 L1168.6,1221.1 L1170.9,1222.6 L1173.3,1224.1 L1175.8,1225.7 L1178.2,1227.2 L1180.7,1228.7 L1183.3,1230.2 L1185.8,1231.7 L1188.4,1233.1 L1191.0,1234.6 L1193.6,1236.0 L1196.3,1237.4 L1199.0,1238.8 L1201.7,1240.2 L1204.4,1241.6 L1207.2,1243.0 L1210.0,1244.3 L1212.9,1245.6 L1215.7,1246.9 L1218.6,1248.2 L1221.6,1249.5 L1224.9,1250.9 L1227.9,1252.1 L1230.9,1253.3 L1234.0,1254.5 L1237.1,1255.7 L1240.2,1256.9 L1243.4,1258.0 L1246.6,1259.2 L1249.8,1260.3 L1253.1,1261.4 L1256.4,1262.5 L1259.8,1263.6 L1263.1,1264.7 L1266.5,1265.8 L1270.0,1266.9 L1273.5,1267.9 L1277.0,1269.0 L1280.5,1270.0 L1284.1,1271.1 L1287.7,1272.1 L1291.4,1273.1 L1295.1,1274.1 L1298.8,1275.1 L1302.5,1276.2 L1306.3,1277.2 L1310.2,1278.2 L1314.0,1279.2 L1317.9,1280.2 L1321.9,1281.2 L1325.8,1282.2 L1329.8,1283.2 L1333.9,1284.2 L1338.0,1285.2 L1342.5,1286.3 L1346.7,1287.3 L1350.9,1288.4 L1355.1,1289.4 L1359.4,1290.4 L1363.7,1291.5 L1368.0,1292.5 L1372.4,1293.5 L1376.8,1294.6 L1381.3,1295.7 L1385.8,1296.8 L1390.3,1297.8 L1394.9,1298.9 L1399.5,1300.1 L1404.2,1301.2 L1408.9,1302.3 L1413.6,1303.5 L1418.3,1304.6 L1423.2,1305.8 L1428.0,1307.0 L1432.9,1308.2 L1437.8,1309.4 L1442.8,1310.7 L1447.8,1311.9 L1452.8,1313.2 L1457.9,1314.5 L1463.0,1315.8 L1468.2,1317.2 L1473.4,1318.5 L1478.6,1319.9 L1483.9,1321.3 L1489.2,1322.7 L1494.6,1324.2 L1500.6,1325.8 L1506.0,1327.3 L1511.5,1328.8 L1517.0,1330.4 L1522.6,1332.0 L1528.2,1333.6 L1533.9,1335.2 L1539.6,1336.9 L1545.3,1338.6 L1551.1,1340.3 L1556.9,1342.0 L1562.8,1343.8 L1568.7,1345.7 L1574.7,1347.5 L1580.7,1349.4 L1586.7,1351.3 L1592.8,1353.3 L1598.9,1355.2 L1605.1,1357.3 L1611.3,1359.3 L1617.6,1361.4 L1623.9,1363.6 L1630.2,1365.7 L1636.6,1368.0 L1643.0,1370.2 L1649.5,1372.5 L1656.0,1374.8 L1662.6,1377.2 L1669.2,1379.6 L1675.9,1382.1 L1682.6,1384.6 L1689.3,1387.1 L1696.1,1389.7 L1703.6,1392.6" fill="none" stroke="#000" stroke-width="3.3" stroke-linejoin="round"/><path d="M428.0,940.7 L440.1,943.2 L452.0,945.7 L463.7,948.1 L475.3,950.4 L486.7,952.6 L498.0,954.8 L509.1,957.0 L520.1,959.0 L530.9,961.0 L541.5,963.0 L552.0,964.8 L562.4,966.7 L572.6,968.4 L582.6,970.1 L592.5,971.8 L602.3,973.4 L611.9,974.9 L621.4,976.4 L630.7,977.9 L639.9,979.3 L649.0,980.6 L657.9,982.0 L666.7,983.2 L675.3,984.4 L683.9,985.6 L692.3,986.7 L700.5,987.8 L708.7,988.9 L716.7,989.9 L724.6,990.9 L732.3,991.8 L740.0,992.7 L747.5,993.6 L755.7,994.5 L763.0,995.3 L770.1,996.0 L777.2,996.8 L784.1,997.5 L790.9,998.2 L797.7,998.8 L804.3,999.5 L810.8,1000.1 L817.2,1000.7 L823.5,1001.2 L829.7,1001.8 L835.8,1002.3 L841.8,1002.8 L847.7,1003.3 L853.5,1003.8 L859.2,1004.2 L864.8,1004.7 L870.3,1005.1 L875.7,1005.5 L881.0,1005.9 L886.3,1006.3 L891.5,1006.7 L896.5,1007.1 L901.5,1007.5 L906.4,1007.9 L911.3,1008.2 L916.0,1008.6 L920.7,1009.0 L925.3,1009.4 L929.8,1009.7 L934.3,1010.1 L938.6,1010.5 L943.4,1010.9 L947.6,1011.3 L951.8,1011.7 L955.9,1012.1 L959.9,1012.5 L963.9,1012.9 L967.8,1013.3 L971.6,1013.8 L975.4,1014.3 L979.1,1014.7 L982.8,1015.2 L986.4,1015.7 L990.0,1016.2 L993.5,1016.8 L996.9,1017.3 L1000.3,1017.9 L1003.7,1018.5 L1007.0,1019.1 L1010.3,1019.7 L1013.5,1020.3 L1016.6,1020.9 L1019.8,1021.6 L1022.8,1022.2 L1025.9,1022.9 L1028.9,1023.6 L1031.9,1024.3 L1034.8,1025.1 L1037.7,1025.8 L1040.5,1026.6 L1043.3,1027.4 L1046.1,1028.1 L1048.9,1029.0 L1051.6,1029.8 L1054.6,1030.7 L1057.2,1031.5 L1059.9,1032.4 L1062.5,1033.3 L1065.0,1034.2 L1067.6,1035.1 L1070.1,1036.1 L1072.7,1037.0 L1075.2,1038.0 L1077.6,1039.0 L1080.1,1039.9 L1082.5,1041.0 L1085.0,1042.0 L1087.4,1043.0 L1089.8,1044.1 L1092.2,1045.2 L1094.5,1046.3 L1096.9,1047.4 L1099.3,1048.5 L1101.6,1049.6 L1104.0,1050.8 L1106.3,1052.0 L1108.6,1053.2 L1111.0,1054.4 L1113.3,1055.6 L1115.7,1056.8 L1118.0,1058.1 L1120.3,1059.4 L1122.7,1060.7 L1125.0,1062.0 L1127.4,1063.3 L1129.7,1064.6 L1132.1,1066.0 L1134.7,1067.5 L1137.1,1068.9 L1139.5,1070.3 L1141.9,1071.7 L1144.3,1073.2 L1146.8,1074.6 L1149.2,1076.1 L1151.7,1077.6 L1154.2,1079.1 L1156.7,1080.6 L1159.2,1082.2 L1161.8,1083.7 L1164.4,1085.3 L1167.0,1086.9 L1169.6,1088.5 L1172.2,1090.2 L1174.9,1091.8 L1177.6,1093.5 L1180.4,1095.2 L1183.2,1096.9 L1186.0,1098.6 L1188.8,1100.3 L1191.6,1102.0 L1194.5,1103.8 L1197.4,1105.6 L1200.3,1107.4 L1203.3,1109.2 L1206.3,1111.0 L1209.2,1112.8 L1212.3,1114.7 L1215.3,1116.5 L1218.3,1118.4 L1221.4,1120.2 L1224.5,1122.1 L1227.9,1124.2 L1231.0,1126.1 L1234.1,1128.0 L1237.3,1129.9 L1240.4,1131.8 L1243.6,1133.7 L1246.8,1135.6 L1249.9,1137.6 L1253.1,1139.5 L1256.3,1141.4 L1259.5,1143.4 L1262.7,1145.3 L1266.0,1147.3 L1269.2,1149.2 L1272.4,1151.2 L1275.6,1153.1 L1278.9,1155.1 L1282.1,1157.0 L1285.3,1159.0 L1288.5,1160.9 L1291.8,1162.8 L1295.0,1164.8 L1298.2,1166.7 L1301.4,1168.7 L1304.6,1170.6 L1307.8,1172.5 L1311.0,1174.4 L1314.2,1176.3 L1317.4,1178.2 L1320.6,1180.1 L1323.7,1182.0 L1326.9,1183.9 L1330.0,1185.8 L1333.4,1187.8 L1336.5,1189.7 L1339.6,1191.5 L1342.7,1193.3 L1345.8,1195.2 L1348.8,1197.0 L1351.8,1198.8 L1354.8,1200.5 L1357.8,1202.3 L1360.8,1204.0 L1363.7,1205.8 L1366.6,1207.5 L1369.5,1209.2 L1372.4,1210.9 L1375.2,1212.6 L1378.0,1214.2 L1380.8,1215.9 L1383.6,1217.5 L1386.3,1219.1 L1389.0,1220.6 L1391.7,1222.2 L1394.3,1223.7 L1396.9,1225.3 L1399.5,1226.8 L1402.0,1228.2 L1404.6,1229.7 L1407.0,1231.1 L1409.5,1232.5 L1411.9,1233.9 L1414.3,1235.2 L1416.6,1236.6 L1419.0,1237.9 L1421.3,1239.2 L1423.9,1240.7 L1426.2,1242.0 L1428.6,1243.3 L1430.9,1244.5 L1433.2,1245.8 L1435.6,1247.0 L1437.9,1248.3 L1440.3,1249.5 L1442.7,1250.8 L1445.1,1252.0 L1447.5,1253.2 L1449.9,1254.5 L1452.4,1255.7 L1455.0,1257.0 L1457.5,1258.2 L1460.1,1259.5 L1462.8,1260.7 L1465.5,1262.0 L1468.2,1263.3 L1471.0,1264.6 L1473.9,1265.9 L1476.8,1267.2 L1479.8,1268.5 L1482.8,1269.9 L1486.0,1271.2 L1489.2,1272.6 L1492.5,1274.0 L1495.8,1275.4 L1499.3,1276.9 L1502.8,1278.3 L1506.4,1279.8 L1510.2,1281.3 L1514.0,1282.9 L1518.3,1284.6 L1522.4,1286.2 L1526.5,1287.8 L1530.8,1289.5 L1535.2,1291.2 L1539.7,1293.0 L1544.3,1294.7 L1549.1,1296.5 L1553.9,1298.4 L1559.0,1300.3 L1564.1,1302.2 L1569.4,1304.2 L1574.8,1306.2 L1580.4,1308.2 L1586.2,1310.4 L1592.0,1312.5 L1598.1,1314.7 L1604.3,1317.0 L1610.6,1319.3 L1617.2,1321.6 L1623.9,1324.0 L1630.8,1326.5 L1637.8,1329.0 L1645.1,1331.6 L1652.5,1334.2 L1660.1,1336.9 L1667.9,1339.7 L1675.9,1342.5 L1684.0,1345.4 L1692.4,1348.4 L1701.0,1351.4 L1709.8,1354.5 L1718.8,1357.6 L1729.0,1361.2" fill="none" stroke="#f00" stroke-width="3.4" stroke-linejoin="round"/><rect x="435.0" y="970.8" width="34.0" height="34.0" fill="#000"/><rect x="938.4" y="1001.5" width="34.0" height="34.0" fill="#000"/><rect x="1017.6" y="1050.9" width="34.0" height="34.0" fill="#000"/><rect x="1151.6" y="1248.6" width="34.0" height="34.0" fill="#000"/><rect x="1458.0" y="1287.8" width="34.0" height="34.0" fill="#000"/><rect x="1686.6" y="1376.0" width="34.0" height="34.0" fill="#000"/><circle cx="428.0" cy="939.8" r="18.75" fill="#f00"/><circle cx="731.8" cy="1001.6" r="18.75" fill="#f00"/><circle cx="1028.9" cy="1005.5" r="18.75" fill="#f00"/><circle cx="1148.4" cy="1074.6" r="18.75" fill="#f00"/><circle cx="1436.0" cy="1249.5" r="18.75" fill="#f00"/><circle cx="1495.2" cy="1274.9" r="18.75" fill="#f00"/><circle cx="1729.0" cy="1360.1" r="18.75" fill="#f00"/><path d="M452.0,970.8 V962.4 M434.5,962.4 h35.0 M452.0,1004.8 V1016.3 M434.5,1016.3 h35.0" stroke="#000" stroke-opacity="0.8" stroke-width="2.7" fill="none"/><path d="M955.4,1001.5 V992.4 M937.9,992.4 h35.0" stroke="#000" stroke-opacity="0.8" stroke-width="2.7" fill="none"/><path d="M1017.1,1051.0 h35.0" stroke="#000" stroke-opacity="0.8" stroke-width="2.7" fill="none"/><path d="M1168.6,1248.6 V1244.4 M1151.1,1244.4 h35.0 M1168.6,1282.6 V1295.4 M1151.1,1295.4 h35.0" stroke="#000" stroke-opacity="0.8" stroke-width="2.7" fill="none"/><path d="M428.0,921.0 V908.5 M410.5,908.5 h35.0 M428.0,958.5 V985.0 M410.5,985.0 h35.0" stroke="#f00" stroke-opacity="0.72" stroke-width="2.9" fill="none"/><path d="M731.8,1020.4 V1046.0 M714.3,1046.0 h35.0" stroke="#f00" stroke-opacity="0.72" stroke-width="2.9" fill="none"/><path d="M1028.9,986.8 V957.9 M1011.4,957.9 h35.0 M1028.9,1024.2 V1037.4 M1011.4,1037.4 h35.0" stroke="#f00" stroke-opacity="0.72" stroke-width="2.9" fill="none"/><path d="M1148.4,1055.8 V1047.4 M1130.9,1047.4 h35.0 M1148.4,1093.3 V1109.4 M1130.9,1109.4 h35.0" stroke="#f00" stroke-opacity="0.72" stroke-width="2.9" fill="none"/><path d="M1436.0,1230.8 V1228.8 M1418.5,1228.8 h35.0" stroke="#f00" stroke-opacity="0.72" stroke-width="2.9" fill="none"/><path d="M1729.0,1341.3 V1318.0 M1711.5,1318.0 h35.0 M1729.0,1378.8 V1384.3 M1711.5,1384.3 h35.0" stroke="#f00" stroke-opacity="0.72" stroke-width="2.9" fill="none"/><rect x="1285.7" y="833.6" width="526.3" height="164.9" fill="none" stroke="#444" stroke-width="2.6"/><line x1="1330.2" y1="883.3" x2="1478.2" y2="883.3" stroke="#000" stroke-width="2.6"/><rect x="1387.6" y="866.3" width="34.0" height="34.0" fill="#000"/><line x1="1330.2" y1="960.6" x2="1478.2" y2="960.6" stroke="#f00" stroke-width="3.2"/><circle cx="1404.6" cy="960.6" r="18.75" fill="#f00"/><text transform="translate(1491.9,905.4) scale(0.995,1.04)" font-family="Liberation Sans, sans-serif" font-size="65">rGO10-3</text><text transform="translate(1491.9,982.7) scale(0.995,1.04)" font-family="Liberation Sans, sans-serif" font-size="65">NrGO10-4</text></g><g><line x1="253.9" y1="1637.7" x2="253.9" y2="2274.8" stroke="#000" stroke-width="5.6"/><line x1="223.6" y1="2272.0" x2="253.9" y2="2272.0" stroke="#000" stroke-width="5.6"/><line x1="238.9" y1="2219.4" x2="253.9" y2="2219.4" stroke="#000" stroke-width="5.6"/><line x1="223.6" y1="2166.8" x2="253.9" y2="2166.8" stroke="#000" stroke-width="5.6"/><line x1="238.9" y1="2114.1" x2="253.9" y2="2114.1" stroke="#000" stroke-width="5.6"/><line x1="223.6" y1="2061.5" x2="253.9" y2="2061.5" stroke="#000" stroke-width="5.6"/><line x1="238.9" y1="2008.9" x2="253.9" y2="2008.9" stroke="#000" stroke-width="5.6"/><line x1="223.6" y1="1956.2" x2="253.9" y2="1956.2" stroke="#000" stroke-width="5.6"/><line x1="238.9" y1="1903.6" x2="253.9" y2="1903.6" stroke="#000" stroke-width="5.6"/><line x1="223.6" y1="1851.0" x2="253.9" y2="1851.0" stroke="#000" stroke-width="5.6"/><line x1="238.9" y1="1798.4" x2="253.9" y2="1798.4" stroke="#000" stroke-width="5.6"/><line x1="223.6" y1="1745.8" x2="253.9" y2="1745.8" stroke="#000" stroke-width="5.6"/><line x1="238.9" y1="1693.1" x2="253.9" y2="1693.1" stroke="#000" stroke-width="5.6"/><line x1="223.6" y1="1640.5" x2="253.9" y2="1640.5" stroke="#000" stroke-width="5.6"/><line x1="253.9" y1="1987.5" x2="1834.5" y2="1987.5" stroke="#000" stroke-width="5.6"/><line x1="253.7" y1="1987.5" x2="253.7" y2="2017.5" stroke="#000" stroke-width="5.6"/><line x1="332.6" y1="1987.5" x2="332.6" y2="2002.5" stroke="#000" stroke-width="5.6"/><line x1="411.5" y1="1987.5" x2="411.5" y2="2017.5" stroke="#000" stroke-width="5.6"/><line x1="490.4" y1="1987.5" x2="490.4" y2="2002.5" stroke="#000" stroke-width="5.6"/><line x1="569.3" y1="1987.5" x2="569.3" y2="2017.5" stroke="#000" stroke-width="5.6"/><line x1="648.2" y1="1987.5" x2="648.2" y2="2002.5" stroke="#000" stroke-width="5.6"/><line x1="727.1" y1="1987.5" x2="727.1" y2="2017.5" stroke="#000" stroke-width="5.6"/><line x1="806.0" y1="1987.5" x2="806.0" y2="2002.5" stroke="#000" stroke-width="5.6"/><line x1="884.9" y1="1987.5" x2="884.9" y2="2017.5" stroke="#000" stroke-width="5.6"/><line x1="963.8" y1="1987.5" x2="963.8" y2="2002.5" stroke="#000" stroke-width="5.6"/><line x1="1042.7" y1="1987.5" x2="1042.7" y2="2017.5" stroke="#000" stroke-width="5.6"/><line x1="1121.6" y1="1987.5" x2="1121.6" y2="2002.5" stroke="#000" stroke-width="5.6"/><line x1="1200.5" y1="1987.5" x2="1200.5" y2="2017.5" stroke="#000" stroke-width="5.6"/><line x1="1279.4" y1="1987.5" x2="1279.4" y2="2002.5" stroke="#000" stroke-width="5.6"/><line x1="1358.3" y1="1987.5" x2="1358.3" y2="2017.5" stroke="#000" stroke-width="5.6"/><line x1="1437.2" y1="1987.5" x2="1437.2" y2="2002.5" stroke="#000" stroke-width="5.6"/><line x1="1516.1" y1="1987.5" x2="1516.1" y2="2017.5" stroke="#000" stroke-width="5.6"/><line x1="1595.0" y1="1987.5" x2="1595.0" y2="2002.5" stroke="#000" stroke-width="5.6"/><line x1="1673.9" y1="1987.5" x2="1673.9" y2="2017.5" stroke="#000" stroke-width="5.6"/><line x1="1752.8" y1="1987.5" x2="1752.8" y2="2002.5" stroke="#000" stroke-width="5.6"/><line x1="1831.7" y1="1987.5" x2="1831.7" y2="2017.5" stroke="#000" stroke-width="5.6"/><text transform="translate(201.8,2289.7) scale(1.0,1.055)" font-family="Liberation Sans, sans-serif" font-size="62" text-anchor="end">-60</text><text transform="translate(201.8,2184.4) scale(1.0,1.055)" font-family="Liberation Sans, sans-serif" font-size="62" text-anchor="end">-40</text><text transform="translate(201.8,2079.2) scale(1.0,1.055)" font-family="Liberation Sans, sans-serif" font-size="62" text-anchor="end">-20</text><text transform="translate(201.8,1974.0) scale(1.0,1.055)" font-family="Liberation Sans, sans-serif" font-size="62" text-anchor="end">0</text><text transform="translate(201.8,1868.7) scale(1.0,1.055)" font-family="Liberation Sans, sans-serif" font-size="62" text-anchor="end">20</text><text transform="translate(201.8,1763.5) scale(1.0,1.055)" font-family="Liberation Sans, sans-serif" font-size="62" text-anchor="end">40</text><text transform="translate(201.8,1658.2) scale(1.0,1.055)" font-family="Liberation Sans, sans-serif" font-size="62" text-anchor="end">60</text><text transform="translate(253.7,2085.0) scale(1.0,1.055)" font-family="Liberation Sans, sans-serif" font-size="62" text-anchor="middle">2</text><text transform="translate(411.5,2085.0) scale(1.0,1.055)" font-family="Liberation Sans, sans-serif" font-size="62" text-anchor="middle">3</text><text transform="translate(569.3,2085.0) scale(1.0,1.055)" font-family="Liberation Sans, sans-serif" font-size="62" text-anchor="middle">4</text><text transform="translate(727.1,2085.0) scale(1.0,1.055)" font-family="Liberation Sans, sans-serif" font-size="62" text-anchor="middle">5</text><text transform="translate(884.9,2085.0) scale(1.0,1.055)" font-family="Liberation Sans, sans-serif" font-size="62" text-anchor="middle">6</text><text transform="translate(1042.7,2085.0) scale(1.0,1.055)" font-family="Liberation Sans, sans-serif" font-size="62" text-anchor="middle">7</text><text transform="translate(1200.5,2085.0) scale(1.0,1.055)" font-family="Liberation Sans, sans-serif" font-size="62" text-anchor="middle">8</text><text transform="translate(1358.3,2085.0) scale(1.0,1.055)" font-family="Liberation Sans, sans-serif" font-size="62" text-anchor="middle">9</text><text transform="translate(1516.1,2085.0) scale(1.0,1.055)" font-family="Liberation Sans, sans-serif" font-size="62" text-anchor="middle">10</text><text transform="translate(1673.9,2085.0) scale(1.0,1.055)" font-family="Liberation Sans, sans-serif" font-size="62" text-anchor="middle">11</text><text transform="translate(1831.7,2085.0) scale(1.0,1.055)" font-family="Liberation Sans, sans-serif" font-size="62" text-anchor="middle">12</text><text transform="translate(82.4,1954.6) rotate(-90) scale(1.0,1.05)" font-family="Liberation Sans, sans-serif" font-size="75" text-anchor="middle">PZ</text><text transform="translate(1041.0,2200.8) scale(1.0,1.03)" font-family="Liberation Sans, sans-serif" font-size="74" text-anchor="middle">pH</text><path d="M429.4,1739.6 L446.3,1743.6 L462.8,1747.5 L479.0,1751.3 L494.8,1755.1 L510.2,1758.7 L525.3,1762.3 L540.0,1765.8 L554.3,1769.2 L568.4,1772.6 L582.0,1775.8 L595.4,1779.0 L608.4,1782.1 L621.1,1785.2 L633.4,1788.1 L645.5,1791.0 L657.2,1793.8 L668.6,1796.6 L679.8,1799.3 L690.6,1801.9 L701.1,1804.4 L711.4,1806.9 L721.3,1809.3 L731.0,1811.7 L740.4,1813.9 L749.6,1816.2 L758.4,1818.3 L767.0,1820.4 L775.4,1822.5 L783.5,1824.5 L791.3,1826.4 L798.9,1828.3 L806.3,1830.1 L813.5,1831.8 L821.0,1833.7 L827.7,1835.4 L834.2,1837.0 L840.4,1838.5 L846.4,1840.0 L852.2,1841.5 L857.8,1842.9 L863.2,1844.3 L868.5,1845.6 L873.5,1846.9 L878.4,1848.1 L883.1,1849.3 L887.6,1850.5 L891.9,1851.6 L896.1,1852.7 L900.1,1853.7 L904.0,1854.8 L907.7,1855.7 L911.3,1856.7 L914.7,1857.6 L918.0,1858.5 L921.1,1859.3 L924.2,1860.1 L927.1,1860.9 L929.9,1861.7 L932.6,1862.5 L935.1,1863.2 L937.6,1863.9 L940.0,1864.5 L942.3,1865.2 L944.5,1865.8 L946.6,1866.4 L948.6,1867.0 L950.7,1867.6 L952.6,1868.2 L954.4,1868.7 L956.2,1869.3 L957.9,1869.8 L959.5,1870.3 L961.1,1870.8 L962.6,1871.3 L964.2,1871.7 L965.6,1872.2 L967.1,1872.6 L968.5,1873.1 L969.9,1873.5 L971.2,1874.0 L972.5,1874.4 L973.8,1874.8 L975.1,1875.3 L976.3,1875.7 L977.5,1876.1 L978.7,1876.5 L979.8,1876.9 L980.9,1877.3 L982.0,1877.7 L983.1,1878.0 L984.1,1878.4 L985.1,1878.8 L986.1,1879.2 L987.1,1879.6 L988.0,1879.9 L989.0,1880.3 L989.9,1880.7 L990.7,1881.1 L991.6,1881.4 L992.5,1881.8 L993.4,1882.2 L994.2,1882.6 L995.0,1882.9 L995.7,1883.3 L996.5,1883.7 L997.2,1884.1 L998.0,1884.4 L998.7,1884.8 L999.4,1885.2 L1000.1,1885.6 L1000.8,1886.0 L1001.4,1886.3 L1002.1,1886.7 L1002.7,1887.1 L1003.4,1887.5 L1004.0,1887.9 L1004.6,1888.4 L1005.2,1888.8 L1005.8,1889.2 L1006.4,1889.6 L1007.0,1890.0 L1007.6,1890.5 L1008.2,1890.9 L1008.8,1891.4 L1009.4,1891.8 L1009.9,1892.3 L1010.5,1892.8 L1011.1,1893.3 L1011.7,1893.8 L1012.2,1894.3 L1012.8,1894.8 L1013.4,1895.3 L1014.0,1895.9 L1014.6,1896.4 L1015.2,1897.0 L1015.8,1897.5 L1016.4,1898.1 L1017.0,1898.7 L1017.6,1899.3 L1018.2,1899.9 L1018.8,1900.5 L1019.4,1901.1 L1020.1,1901.8 L1020.7,1902.4 L1021.4,1903.1 L1022.0,1903.8 L1022.7,1904.5 L1023.4,1905.2 L1024.1,1905.9 L1024.8,1906.7 L1025.5,1907.5 L1026.3,1908.2 L1027.0,1909.0 L1027.8,1909.8 L1028.5,1910.6 L1029.3,1911.5 L1030.1,1912.3 L1030.9,1913.2 L1031.8,1914.0 L1032.6,1914.9 L1033.5,1915.8 L1034.3,1916.7 L1035.2,1917.6 L1036.1,1918.6 L1037.0,1919.5 L1037.9,1920.5 L1038.9,1921.5 L1039.8,1922.5 L1040.8,1923.5 L1041.7,1924.5 L1042.7,1925.5 L1043.7,1926.5 L1044.6,1927.5 L1045.6,1928.5 L1046.6,1929.6 L1047.6,1930.6 L1048.7,1931.6 L1049.7,1932.7 L1050.7,1933.8 L1051.8,1934.8 L1052.8,1935.9 L1053.9,1937.0 L1055.0,1938.1 L1056.1,1939.2 L1057.2,1940.3 L1058.3,1941.4 L1059.4,1942.5 L1060.5,1943.6 L1061.6,1944.7 L1062.8,1945.8 L1063.9,1947.0 L1065.1,1948.1 L1066.2,1949.2 L1067.4,1950.3 L1068.6,1951.5 L1069.8,1952.6 L1070.9,1953.7 L1072.1,1954.9 L1073.3,1956.0 L1074.7,1957.3 L1075.9,1958.4 L1077.1,1959.5 L1078.3,1960.7 L1079.6,1961.8 L1080.8,1963.0 L1082.0,1964.1 L1083.3,1965.2 L1084.6,1966.4 L1085.8,1967.5 L1087.1,1968.6 L1088.4,1969.7 L1089.6,1970.9 L1090.9,1972.0 L1092.2,1973.1 L1093.5,1974.2 L1094.8,1975.3 L1096.1,1976.4 L1097.4,1977.5 L1098.7,1978.6 L1100.0,1979.7 L1101.3,1980.8 L1102.6,1981.9 L1104.0,1982.9 L1105.3,1984.0 L1106.6,1985.1 L1108.0,1986.1 L1109.3,1987.2 L1110.7,1988.2 L1112.1,1989.2 L1113.5,1990.3 L1115.0,1991.3 L1116.6,1992.3 L1118.4,1993.5 L1120.0,1994.5 L1121.8,1995.5 L1123.7,1996.6 L1125.6,1997.6 L1127.6,1998.7 L1129.8,1999.7 L1132.1,2000.8 L1134.5,2001.8 L1137.0,2002.9 L1139.7,2004.0 L1142.5,2005.1 L1145.4,2006.2 L1148.6,2007.3 L1151.9,2008.4 L1155.4,2009.6 L1159.0,2010.7 L1162.9,2011.9 L1166.9,2013.1 L1171.2,2014.3 L1175.7,2015.5 L1180.4,2016.7 L1185.3,2018.0 L1190.5,2019.3 L1195.9,2020.6 L1201.6,2021.9 L1207.6,2023.2 L1213.8,2024.6 L1220.3,2026.0 L1227.0,2027.4 L1234.1,2028.9 L1241.5,2030.4 L1249.1,2031.9 L1258.0,2033.6 L1266.3,2035.1 L1275.0,2036.7 L1284.0,2038.3 L1293.4,2040.0 L1303.1,2041.7 L1313.2,2043.4 L1323.6,2045.2 L1334.5,2047.0 L1345.7,2048.9 L1357.3,2050.7 L1369.3,2052.7 L1381.7,2054.6 L1394.6,2056.6 L1407.9,2058.7 L1421.6,2060.8 L1435.7,2062.9 L1450.3,2065.1 L1465.3,2067.3 L1480.8,2069.6 L1496.8,2071.9 L1513.2,2074.2 L1530.2,2076.6 L1547.6,2079.1 L1565.5,2081.6 L1584.0,2084.2 L1602.9,2086.8 L1622.4,2089.5 L1642.4,2092.2 L1662.9,2095.0 L1684.0,2097.8 L1705.7,2100.7 L1727.9,2103.7 L1753.0,2107.0" fill="none" stroke="#000" stroke-width="3.3" stroke-linejoin="round"/><path d="M427.7,1745.9 L443.2,1746.6 L458.4,1747.3 L473.2,1748.0 L487.8,1748.8 L502.0,1749.5 L515.9,1750.3 L529.5,1751.1 L542.7,1751.9 L555.7,1752.7 L568.4,1753.5 L580.8,1754.3 L592.9,1755.1 L604.7,1756.0 L616.2,1756.8 L627.5,1757.7 L638.5,1758.6 L649.2,1759.4 L659.6,1760.3 L669.8,1761.2 L679.7,1762.1 L689.4,1763.0 L698.8,1763.9 L708.0,1764.8 L716.9,1765.8 L725.6,1766.7 L734.1,1767.6 L742.3,1768.5 L750.3,1769.5 L758.1,1770.4 L765.7,1771.4 L773.1,1772.3 L780.2,1773.2 L787.2,1774.2 L794.6,1775.2 L801.1,1776.2 L807.5,1777.1 L813.6,1778.1 L819.6,1779.0 L825.4,1780.0 L831.0,1780.9 L836.4,1781.8 L841.7,1782.8 L846.8,1783.7 L851.7,1784.6 L856.5,1785.6 L861.2,1786.5 L865.6,1787.4 L870.0,1788.3 L874.2,1789.2 L878.3,1790.1 L882.2,1791.0 L886.0,1791.9 L889.7,1792.8 L893.3,1793.6 L896.7,1794.5 L900.1,1795.3 L903.3,1796.2 L906.5,1797.0 L909.5,1797.8 L912.4,1798.7 L915.3,1799.5 L918.0,1800.3 L920.7,1801.0 L923.3,1801.8 L925.8,1802.6 L928.3,1803.3 L930.9,1804.1 L933.2,1804.8 L935.5,1805.5 L937.7,1806.2 L939.8,1806.9 L941.9,1807.5 L944.0,1808.2 L946.0,1808.8 L948.0,1809.4 L950.0,1810.0 L951.9,1810.6 L953.8,1811.1 L955.7,1811.7 L957.5,1812.2 L959.4,1812.7 L961.1,1813.2 L962.9,1813.7 L964.6,1814.2 L966.3,1814.6 L968.0,1815.0 L969.7,1815.5 L971.3,1815.9 L972.9,1816.3 L974.5,1816.7 L976.1,1817.0 L977.6,1817.4 L979.1,1817.8 L980.6,1818.1 L982.1,1818.4 L983.6,1818.8 L985.0,1819.1 L986.4,1819.4 L987.8,1819.7 L989.3,1820.0 L990.7,1820.2 L992.0,1820.5 L993.4,1820.8 L994.7,1821.0 L996.0,1821.3 L997.3,1821.5 L998.5,1821.7 L999.8,1821.9 L1001.0,1822.1 L1002.2,1822.4 L1003.5,1822.6 L1004.7,1822.8 L1005.9,1823.0 L1007.0,1823.1 L1008.2,1823.3 L1009.4,1823.5 L1010.5,1823.7 L1011.7,1823.9 L1012.8,1824.0 L1013.9,1824.2 L1015.0,1824.4 L1016.2,1824.5 L1017.3,1824.7 L1018.4,1824.9 L1019.5,1825.0 L1020.6,1825.2 L1021.7,1825.3 L1022.8,1825.5 L1023.8,1825.7 L1024.9,1825.8 L1026.0,1826.0 L1027.1,1826.1 L1028.3,1826.3 L1029.4,1826.5 L1030.4,1826.7 L1031.5,1826.8 L1032.6,1827.0 L1033.7,1827.2 L1034.8,1827.4 L1035.9,1827.6 L1037.0,1827.7 L1038.1,1827.9 L1039.2,1828.1 L1040.3,1828.3 L1041.4,1828.6 L1042.5,1828.8 L1043.6,1829.0 L1044.8,1829.2 L1045.9,1829.5 L1047.1,1829.7 L1048.2,1830.0 L1049.4,1830.2 L1050.6,1830.5 L1051.8,1830.8 L1053.0,1831.1 L1054.2,1831.3 L1055.4,1831.7 L1056.7,1832.0 L1057.9,1832.3 L1059.2,1832.6 L1060.4,1833.0 L1061.7,1833.4 L1063.0,1833.7 L1064.4,1834.1 L1065.7,1834.6 L1067.0,1835.0 L1068.5,1835.5 L1069.9,1835.9 L1071.3,1836.4 L1072.8,1836.9 L1074.2,1837.4 L1075.6,1837.9 L1077.1,1838.4 L1078.6,1839.0 L1080.1,1839.6 L1081.7,1840.2 L1083.2,1840.8 L1084.8,1841.4 L1086.4,1842.1 L1088.0,1842.8 L1089.7,1843.5 L1091.3,1844.2 L1093.0,1844.9 L1094.7,1845.7 L1096.5,1846.5 L1098.2,1847.3 L1100.0,1848.2 L1101.8,1849.0 L1103.7,1849.9 L1105.5,1850.8 L1107.4,1851.8 L1109.3,1852.8 L1111.3,1853.8 L1113.3,1854.8 L1115.3,1855.8 L1117.3,1856.9 L1119.4,1858.0 L1121.4,1859.2 L1123.6,1860.4 L1125.9,1861.7 L1128.1,1862.9 L1130.4,1864.2 L1132.6,1865.5 L1134.9,1866.8 L1137.2,1868.2 L1139.6,1869.6 L1142.0,1871.0 L1144.4,1872.5 L1146.8,1874.0 L1149.3,1875.6 L1151.9,1877.1 L1154.4,1878.7 L1157.0,1880.4 L1159.7,1882.1 L1162.3,1883.8 L1165.0,1885.6 L1167.8,1887.4 L1170.6,1889.2 L1173.4,1891.1 L1176.3,1893.0 L1179.2,1895.0 L1182.2,1897.0 L1185.2,1899.0 L1188.2,1901.1 L1191.3,1903.2 L1194.4,1905.4 L1197.6,1907.6 L1200.8,1909.9 L1204.1,1912.1 L1207.4,1914.5 L1210.8,1916.8 L1214.3,1919.2 L1218.1,1921.9 L1221.7,1924.4 L1225.4,1926.9 L1229.2,1929.4 L1233.0,1931.9 L1236.9,1934.5 L1240.9,1937.1 L1245.0,1939.8 L1249.2,1942.4 L1253.5,1945.1 L1257.8,1947.8 L1262.3,1950.6 L1266.9,1953.3 L1271.6,1956.1 L1276.4,1958.9 L1281.3,1961.7 L1286.3,1964.5 L1291.5,1967.3 L1296.8,1970.1 L1302.2,1973.0 L1307.7,1975.9 L1313.4,1978.7 L1319.2,1981.6 L1325.2,1984.5 L1331.2,1987.4 L1337.5,1990.3 L1343.9,1993.2 L1350.4,1996.1 L1357.1,1999.0 L1364.0,2001.9 L1371.0,2004.8 L1378.2,2007.7 L1385.5,2010.6 L1393.8,2013.8 L1401.5,2016.7 L1409.4,2019.6 L1417.5,2022.5 L1425.8,2025.4 L1434.2,2028.2 L1442.9,2031.1 L1451.7,2033.9 L1460.7,2036.7 L1470.0,2039.5 L1479.4,2042.3 L1489.1,2045.1 L1498.9,2047.8 L1509.0,2050.6 L1519.3,2053.3 L1529.8,2056.0 L1540.5,2058.7 L1551.5,2061.3 L1562.6,2063.9 L1574.1,2066.5 L1585.7,2069.1 L1597.6,2071.6 L1609.7,2074.1 L1622.1,2076.6 L1634.7,2079.1 L1647.6,2081.5 L1660.8,2083.9 L1674.1,2086.2 L1687.8,2088.5 L1701.7,2090.8 L1715.9,2093.0 L1730.4,2095.2 L1745.1,2097.4 L1761.6,2099.7" fill="none" stroke="#f00" stroke-width="3.4" stroke-linejoin="round"/><rect x="412.4" y="1724.5" width="34.0" height="34.0" fill="#000"/><rect x="839.6" y="1825.1" width="34.0" height="34.0" fill="#000"/><rect x="979.0" y="1859.1" width="34.0" height="34.0" fill="#000"/><rect x="995.0" y="1879.3" width="34.0" height="34.0" fill="#000"/><rect x="1085.8" y="1969.1" width="34.0" height="34.0" fill="#000"/><rect x="1158.0" y="2009.5" width="34.0" height="34.0" fill="#000"/><rect x="1736.0" y="2091.0" width="34.0" height="34.0" fill="#000"/><circle cx="427.7" cy="1744.6" r="18.75" fill="#f00"/><circle cx="819.4" cy="1766.0" r="18.75" fill="#f00"/><circle cx="976.6" cy="1821.4" r="18.75" fill="#f00"/><circle cx="1038.3" cy="1822.0" r="18.75" fill="#f00"/><circle cx="1149.5" cy="1868.6" r="18.75" fill="#f00"/><circle cx="1382.4" cy="2035.3" r="18.75" fill="#f00"/><circle cx="1761.6" cy="2102.6" r="18.75" fill="#f00"/><path d="M429.4,1724.5 V1720.0 M411.9,1720.0 h35.0 M429.4,1758.5 V1764.1 M411.9,1764.1 h35.0" stroke="#000" stroke-opacity="0.8" stroke-width="2.7" fill="none"/><path d="M856.6,1825.1 V1814.9 M839.1,1814.9 h35.0 M856.6,1859.1 V1864.7 M839.1,1864.7 h35.0" stroke="#000" stroke-opacity="0.8" stroke-width="2.7" fill="none"/><path d="M1175.0,2009.5 V1998.3 M1157.5,1998.3 h35.0" stroke="#000" stroke-opacity="0.8" stroke-width="2.7" fill="none"/><path d="M427.7,1725.8 V1710.0 M410.2,1710.0 h35.0 M427.7,1763.3 V1779.2 M410.2,1779.2 h35.0" stroke="#f00" stroke-opacity="0.72" stroke-width="2.9" fill="none"/><path d="M819.4,1747.2 V1733.4 M801.9,1733.4 h35.0 M801.9,1784.0 h35.0" stroke="#f00" stroke-opacity="0.72" stroke-width="2.9" fill="none"/><path d="M976.6,1802.7 V1800.2 M959.1,1800.2 h35.0 M959.1,1839.4 h35.0" stroke="#f00" stroke-opacity="0.72" stroke-width="2.9" fill="none"/><path d="M1038.3,1803.2 V1790.3 M1020.8,1790.3 h35.0 M1020.8,1839.4 h35.0" stroke="#f00" stroke-opacity="0.72" stroke-width="2.9" fill="none"/><path d="M1761.6,2083.8 V2058.4 M1744.1,2058.4 h35.0 M1761.6,2121.3 V2137.9 M1744.1,2137.9 h35.0" stroke="#f00" stroke-opacity="0.72" stroke-width="2.9" fill="none"/><rect x="1289.4" y="1605.5" width="526.3" height="156.5" fill="none" stroke="#444" stroke-width="2.6"/><line x1="1331" y1="1652.6" x2="1470.8" y2="1652.6" stroke="#000" stroke-width="2.6"/><rect x="1384.2" y="1635.6" width="34.0" height="34.0" fill="#000"/><line x1="1331" y1="1727" x2="1470.8" y2="1727" stroke="#f00" stroke-width="3.2"/><circle cx="1401.2" cy="1727" r="18.75" fill="#f00"/><text transform="translate(1484.6,1672.9) scale(0.975,1.03)" font-family="Liberation Sans, sans-serif" font-size="62">rGO325-3</text><text transform="translate(1484.6,1747.2) scale(0.975,1.03)" font-family="Liberation Sans, sans-serif" font-size="62">NrGO325-4</text></g></g></svg>
</body></html>
